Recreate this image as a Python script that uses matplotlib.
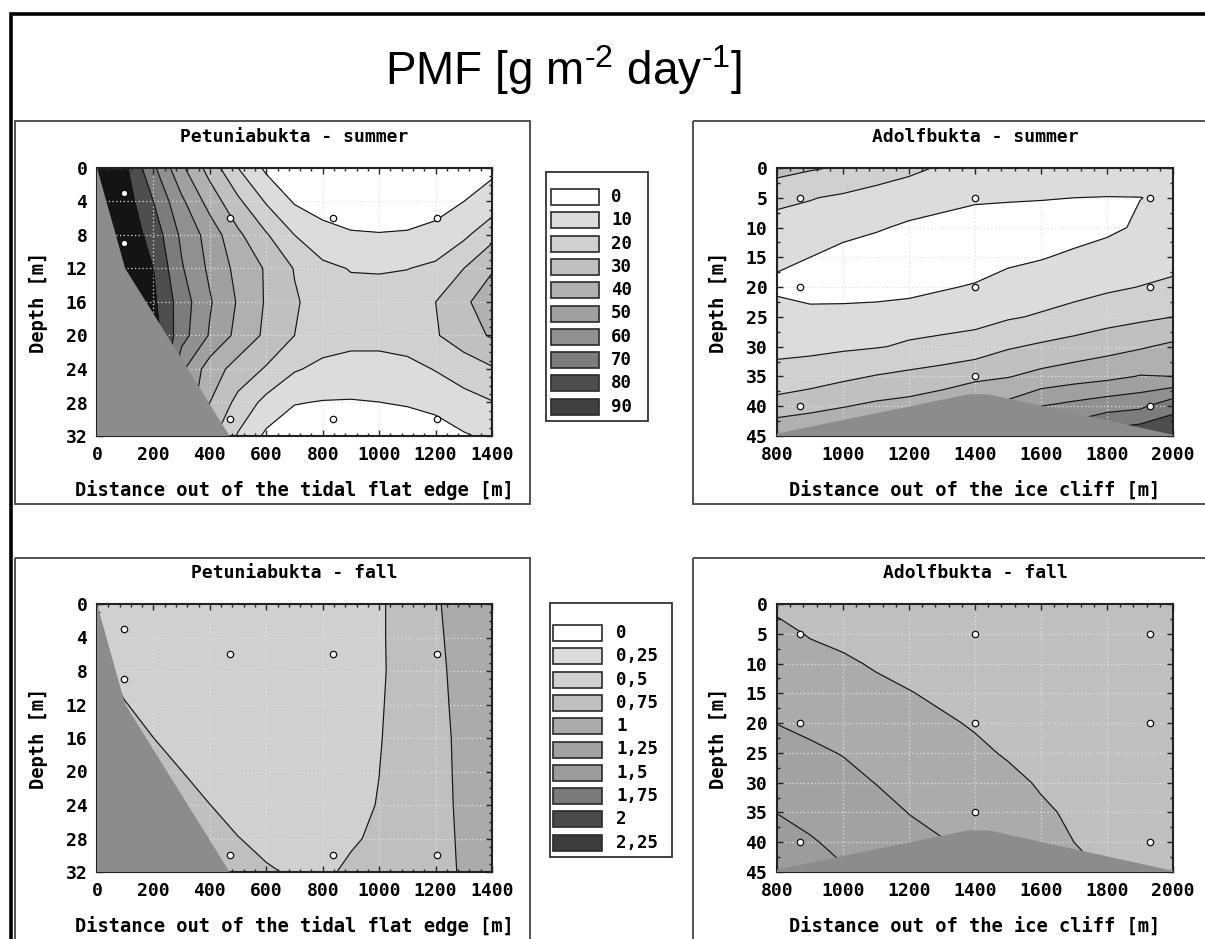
import numpy as np
import matplotlib
matplotlib.use("Agg")
import matplotlib.pyplot as plt
from matplotlib.patches import Rectangle, Polygon
from matplotlib.ticker import MultipleLocator

# ---- legend levels and grey shades --------------------------------------
SUMMER_LEVELS = [0, 10, 20, 30, 40, 50, 60, 70, 80, 90]
SUMMER_LABELS = ['0', '10', '20', '30', '40', '50', '60', '70', '80', '90']
FALL_LEVELS = [0, 0.25, 0.5, 0.75, 1, 1.25, 1.5, 1.75, 2, 2.25]
FALL_LABELS = ['0', '0,25', '0,5', '0,75', '1', '1,25', '1,5', '1,75', '2', '2,25']

SUMMER_GREYS = ['#ffffff', '#dcdcdc', '#d0d0d0', '#c0c0c0', '#b0b0b0',
                '#a0a0a0', '#909090', '#7c7c7c', '#4e4e4e', '#404040']
FALL_GREYS = ['#ffffff', '#dcdcdc', '#d0d0d0', '#bfbfbf', '#ababab',
              '#a2a2a2', '#9c9c9c', '#7a7a7a', '#4a4a4a', '#3c3c3c']
TOP_GREY = '#141414'     # band above the last level in the maps
BED_GREY = '#8c8c8c'

# ---- grids (x = distance [m], rows = depth [m]) --------------------------
PET_X = [0, 100, 200, 300, 400, 500, 600, 700, 800, 900, 1000, 1100, 1200, 1300, 1400]
PET_DEPTH = [0, 4, 8, 12, 16, 20, 24, 28, 32]
ADO_X = [800, 900, 1000, 1100, 1200, 1300, 1400, 1500, 1600, 1700, 1800, 1900, 2000]
ADO_DEPTH = [0, 5, 10, 15, 20, 25, 30, 35, 40, 45]

PET_SUMMER = [
    [105, 92, 72, 52, 36, 20, 8, 5, 3, 2, 2, 2, 3, 5, 8],
    [100, 95, 80, 62, 46, 32, 19, 9, 5, 4, 4, 4, 6, 10, 14],
    [100, 97, 86, 68, 56, 42, 31, 20, 14, 11, 10.5, 11, 13, 18, 27],
    [100, 98, 90, 71, 58, 47, 39, 29.5, 22, 19.6, 19.5, 19.8, 22, 30, 39],
    [100, 100, 92, 75, 61, 49, 39, 31, 26, 23, 22.5, 25, 30, 38, 46],
    [100, 100, 95, 74, 59, 47, 38, 30, 25, 23, 23, 25, 29, 36, 41],
    [100, 100, 100, 62, 45, 36, 29, 21, 17.5, 16.5, 16.5, 17, 20.5, 24, 29],
    [100, 100, 90, 60, 40, 27, 17, 10.5, 9.5, 9.3, 9.9, 11, 13, 17, 19.5],
    [100, 100, 80, 55, 33, 19, 8, 4, 2, 2, 2, 3, 5, 9, 12],
]

ADO_SUMMER = [
    [34, 31, 29, 25, 22, 19, 18, 17, 16, 15.5, 15, 14.5, 14],
    [22, 20.5, 18.5, 16.5, 15, 13, 11.5, 11, 10.5, 10, 9.8, 9.9, 11],
    [17, 15.5, 13, 11, 8.5, 7, 5, 4.5, 5, 6.5, 8.5, 11, 12.5],
    [12, 10, 7, 5, 4, 3, 4, 8, 9.5, 11.5, 13, 15, 16.5],
    [8, 6, 5, 4, 6, 9, 11, 13.5, 15, 17, 18.5, 20.2, 22],
    [14.5, 13, 14, 16, 16.5, 17, 17, 19, 21, 23, 26, 28, 30],
    [18.5, 17.7, 18.5, 19.5, 21, 22, 24, 29, 31.5, 34, 36.5, 39, 42],
    [22, 25, 28, 30.5, 32.5, 35, 38, 39.5, 43, 45.5, 47.5, 50.5, 50],
    [35, 37, 39.5, 42, 43.5, 46, 49, 53, 60, 63, 66, 68, 77],
    [48, 50, 52, 55, 57, 58, 60, 63, 70, 78, 85, 88, 88],
]

PET_FALL = [
    [0.62, 0.62, 0.63, 0.64, 0.65, 0.66, 0.67, 0.68, 0.69, 0.70, 0.72, 0.85, 0.98, 1.08, 1.15],
    [0.70, 0.63, 0.63, 0.64, 0.65, 0.66, 0.67, 0.68, 0.69, 0.70, 0.72, 0.85, 0.97, 1.07, 1.14],
    [0.80, 0.66, 0.63, 0.64, 0.65, 0.66, 0.67, 0.68, 0.69, 0.70, 0.72, 0.84, 0.96, 1.06, 1.13],
    [0.95, 0.76, 0.66, 0.64, 0.65, 0.66, 0.67, 0.68, 0.69, 0.70, 0.73, 0.84, 0.955, 1.05, 1.12],
    [0.98, 0.90, 0.751, 0.66, 0.65, 0.66, 0.67, 0.68, 0.69, 0.70, 0.74, 0.83, 0.95, 1.04, 1.12],
    [1.00, 0.95, 0.85, 0.752, 0.67, 0.66, 0.67, 0.68, 0.69, 0.71, 0.749, 0.83, 0.95, 1.035, 1.11],
    [1.00, 0.98, 0.90, 0.85, 0.752, 0.68, 0.67, 0.68, 0.69, 0.72, 0.755, 0.83, 0.95, 1.03, 1.11],
    [1.00, 0.99, 0.95, 0.90, 0.85, 0.755, 0.70, 0.69, 0.70, 0.73, 0.78, 0.84, 0.945, 1.025, 1.10],
    [1.00, 1.00, 0.98, 0.95, 0.90, 0.82, 0.77, 0.73, 0.72, 0.78, 0.82, 0.86, 0.94, 1.02, 1.10],
]

ADO_FALL = [
    [0.97, 0.90, 0.86, 0.82, 0.80, 0.78, 0.76, 0.77, 0.77, 0.77, 0.77, 0.77, 0.77],
    [1.04, 0.99, 0.95, 0.90, 0.86, 0.83, 0.80, 0.79, 0.78, 0.78, 0.78, 0.77, 0.77],
    [1.08, 1.05, 1.03, 0.98, 0.93, 0.89, 0.86, 0.83, 0.81, 0.80, 0.79, 0.78, 0.77],
    [1.15, 1.12, 1.09, 1.05, 1.01, 0.96, 0.92, 0.88, 0.85, 0.82, 0.80, 0.79, 0.78],
    [1.247, 1.20, 1.16, 1.12, 1.08, 1.03, 0.98, 0.93, 0.89, 0.85, 0.82, 0.80, 0.79],
    [1.32, 1.29, 1.24, 1.19, 1.14, 1.09, 1.04, 0.98, 0.93, 0.89, 0.85, 0.82, 0.80],
    [1.41, 1.37, 1.32, 1.245, 1.20, 1.15, 1.10, 1.05, 0.98, 0.93, 0.88, 0.85, 0.82],
    [1.497, 1.44, 1.39, 1.33, 1.245, 1.20, 1.15, 1.10, 1.03, 0.97, 0.92, 0.88, 0.84],
    [1.57, 1.52, 1.45, 1.40, 1.32, 1.26, 1.20, 1.15, 1.08, 1.00, 0.96, 0.91, 0.87],
    [1.62, 1.58, 1.52, 1.46, 1.38, 1.32, 1.25, 1.20, 1.13, 1.05, 0.99, 0.94, 0.90],
]

# sampling stations
PET_STN_X = [95, 95, 470, 835, 1205, 470, 835, 1205]
PET_STN_D = [3, 9, 6, 6, 6, 30, 30, 30]
ADO_STN_X = [870, 1400, 1930, 870, 1400, 1930, 1400, 870, 1930]
ADO_STN_D = [5, 5, 5, 20, 20, 20, 35, 40, 40]

# sea bed outline
PET_BED_X = [0, 100, 470, 0]
PET_BED_D = [0, 12, 32, 32]
ADO_BED_X = [800, 1380, 1440, 2000, 2000, 800]
ADO_BED_D = [44.6, 38, 38, 44.8, 45, 45]

W, H = 1205, 939
MONO = 'DejaVu Sans Mono'

plt.rcParams['font.family'] = MONO
plt.rcParams['font.weight'] = 'bold'
plt.rcParams['mathtext.fontset'] = 'custom'
plt.rcParams['mathtext.rm'] = 'Liberation Sans:weight=normal'
plt.rcParams['mathtext.default'] = 'rm'


def px_rect(left, top, right, bottom):
    return [left / W, 1 - bottom / H, (right - left) / W, (bottom - top) / H]


def draw_panel(ax, xs, ds, grid, levels, greys, bed_x, bed_d, stn_x, stn_d,
               title, xlabel, xstep, ystep, xminor, yminor):
    X, D = np.meshgrid(xs, ds)
    Z = np.array(grid, dtype=float)
    fill_levels = list(levels) + [levels[-1] * 100]
    fill_cols = list(greys[:-1]) + [TOP_GREY]
    ax.contourf(X, D, Z, levels=fill_levels, colors=fill_cols, zorder=1)
    ax.contour(X, D, Z, levels=levels[1:], colors='#151515', linewidths=0.85, zorder=2)
    ax.add_patch(Polygon(np.column_stack([bed_x, bed_d]), closed=True,
                         facecolor=BED_GREY, edgecolor='none', zorder=3))
    ax.plot(stn_x, stn_d, 'o', ms=4.6, mfc='white', mec='#111111', mew=0.9,
            zorder=4, clip_on=False)

    ax.set_xlim(xs[0], xs[-1])
    ax.set_ylim(ds[-1], ds[0])
    ax.xaxis.set_major_locator(MultipleLocator(xstep))
    ax.yaxis.set_major_locator(MultipleLocator(ystep))
    ax.xaxis.set_minor_locator(MultipleLocator(xminor))
    ax.yaxis.set_minor_locator(MultipleLocator(yminor))
    ax.grid(True, which='major', color='#e0e0e0', linestyle=(0, (1, 2)), linewidth=0.9)
    ax.tick_params(which='both', direction='in', top=True, right=True,
                   color='#222222', width=1, labelsize=13, pad=7)
    ax.tick_params(which='major', length=4)
    ax.tick_params(which='minor', length=2.5)
    for sp in ax.spines.values():
        sp.set_color('#222222')
        sp.set_linewidth(1.5)

    ax.set_title(title, fontsize=13, fontweight='bold', pad=19)
    ax.set_xlabel(xlabel, fontsize=13.5, fontweight='bold')
    ax.set_ylabel('Depth [m]', fontsize=13.5, fontweight='bold')
    ax.xaxis.set_label_coords(0.5, -0.165)
    ax.yaxis.set_label_coords(-0.125, 0.5)


fig = plt.figure(figsize=(W / 100, H / 100), dpi=100)

# overlay in pixel coordinates for frames and legends
ov = fig.add_axes([0, 0, 1, 1])
ov.set_xlim(0, W)
ov.set_ylim(H, 0)
ov.axis('off')
ov.patch.set_visible(False)
ov.set_zorder(5)

ax_ps = fig.add_axes(px_rect(97, 168, 492, 436))
ax_as = fig.add_axes(px_rect(777, 168, 1173, 436))
ax_pf = fig.add_axes(px_rect(97, 604, 492, 872))
ax_af = fig.add_axes(px_rect(777, 604, 1173, 872))

draw_panel(ax_ps, PET_X, PET_DEPTH, PET_SUMMER, SUMMER_LEVELS, SUMMER_GREYS,
           PET_BED_X, PET_BED_D, PET_STN_X, PET_STN_D,
           'Petuniabukta - summer', 'Distance out of the tidal flat edge [m]',
           200, 4, 40, 1)
draw_panel(ax_as, ADO_X, ADO_DEPTH, ADO_SUMMER, SUMMER_LEVELS, SUMMER_GREYS,
           ADO_BED_X, ADO_BED_D, ADO_STN_X, ADO_STN_D,
           'Adolfbukta - summer', 'Distance out of the ice cliff [m]',
           200, 5, 40, 2.5)
draw_panel(ax_pf, PET_X, PET_DEPTH, PET_FALL, FALL_LEVELS, FALL_GREYS,
           PET_BED_X, PET_BED_D, PET_STN_X, PET_STN_D,
           'Petuniabukta - fall', 'Distance out of the tidal flat edge [m]',
           200, 4, 40, 1)
draw_panel(ax_af, ADO_X, ADO_DEPTH, ADO_FALL, FALL_LEVELS, FALL_GREYS,
           ADO_BED_X, ADO_BED_D, ADO_STN_X, ADO_STN_D,
           'Adolfbukta - fall', 'Distance out of the ice cliff [m]',
           200, 5, 40, 2.5)

# outer frame and panel boxes
ov.plot([10.5, 10.5, W + 5], [H + 5, 13.5, 13.5], color='black', lw=2.6,
        solid_joinstyle='miter', clip_on=False)
for (l, t, r, b) in [(15, 121, 530, 504), (693, 121, W + 20, 504),
                     (15, 558, 530, H + 20), (693, 558, W + 20, H + 20)]:
    ov.add_patch(Rectangle((l, t), r - l, b - t, fill=False,
                           edgecolor='#444444', lw=1.3))


def draw_legend(left, top, right, bottom, patch_x, patch_w, text_x, first_y,
                labels, greys):
    ov.add_patch(Rectangle((left, top), right - left, bottom - top,
                           facecolor='white', edgecolor='#333333', lw=1.3))
    for i, (lab, col) in enumerate(zip(labels, greys)):
        y0 = first_y + i * 23.3
        ov.add_patch(Rectangle((patch_x, y0), patch_w, 16, facecolor=col,
                               edgecolor='#2a2a2a', lw=1.2))
        ov.text(text_x, y0 + 8, lab, fontsize=12.5, fontweight='bold',
                ha='left', va='center')


draw_legend(546, 172, 648, 421, 551, 48, 611, 189, SUMMER_LABELS, SUMMER_GREYS)
draw_legend(550, 603, 672, 857, 553, 49, 616, 625, FALL_LABELS, FALL_GREYS)

fig.text(564 / W, 1 - 85 / H, 'PMF [g m$^{\u2010 2}$ day$^{\u2010 1}$]', fontsize=33,
         family='Liberation Sans', fontweight='normal', ha='center', va='baseline')

fig.savefig('out.png', dpi=100)
